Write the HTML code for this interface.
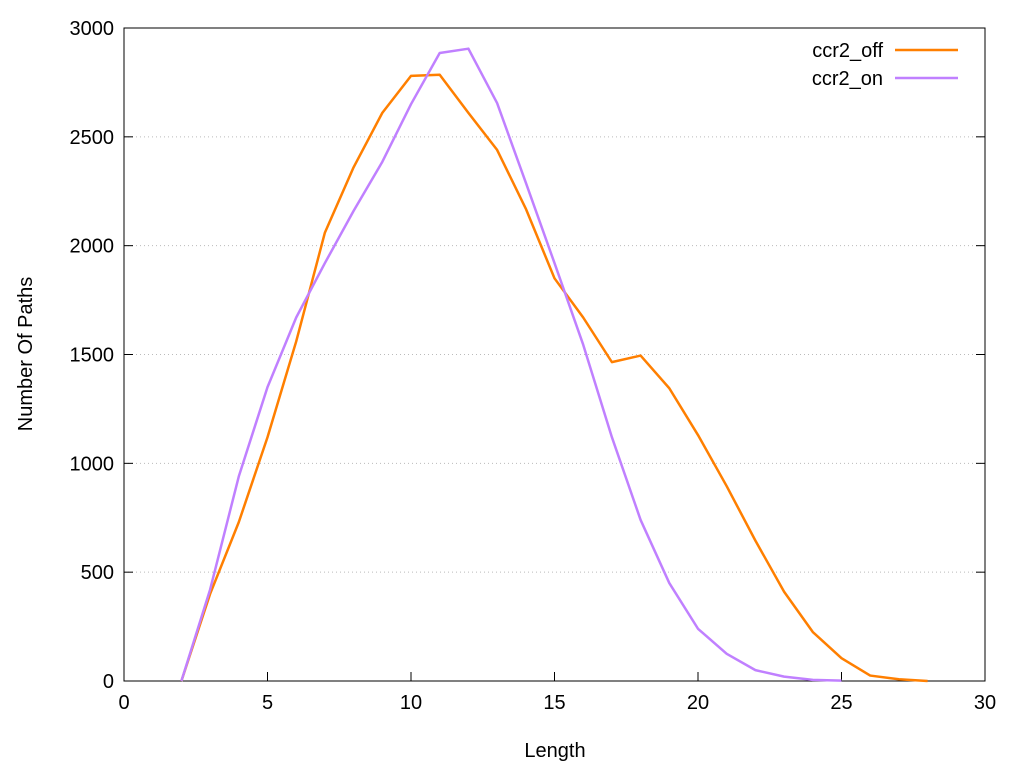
<!DOCTYPE html>
<html><head><meta charset="utf-8"><style>
html,body{margin:0;padding:0;background:#fff;width:1024px;height:768px;overflow:hidden}
svg text{font-family:"Liberation Sans",sans-serif;font-size:20px;fill:#000}
</style></head><body>
<svg id="c" width="1024" height="768"></svg>
<script>
const xs=[2,3,4,5,6,7,8,9,10,11,12,13,14,15,16,17,18,19,20,21,22,23,24,25,26,27,28];
const off=[0,400,730,1120,1560,2060,2360,2610,2780,2785,2610,2440,2170,1850,1670,1465,1495,1345,1130,895,645,410,225,105,25,8,0];
const on=[0,420,940,1350,1670,1920,2160,2385,2650,2885,2905,2655,2290,1920,1545,1120,740,450,240,125,50,20,5,2];
const xTicks=[0,5,10,15,20,25,30];
const yTicks=[0,500,1000,1500,2000,2500,3000];
const L=124,R=985,T=28,B=681;
const sx=v=>L+(R-L)*v/30, sy=v=>B-(B-T)*v/3000;
const svg=document.getElementById('c');const NS='http://www.w3.org/2000/svg';
function mk(t,a,txt){const e=document.createElementNS(NS,t);for(const k in a)e.setAttribute(k,a[k]);if(txt!==undefined)e.textContent=txt;svg.appendChild(e);return e;}
yTicks.forEach(v=>{
 if(v>0&&v<3000){const g=mk('line',{x1:L,x2:R,y1:sy(v),y2:sy(v),stroke:'#bbb','stroke-width':1,'stroke-dasharray':'1,3'});
 
 }
 mk('line',{x1:L,x2:L+9,y1:sy(v),y2:sy(v),stroke:'#000'});mk('line',{x1:R,x2:R-9,y1:sy(v),y2:sy(v),stroke:'#000'});
 const t=mk('text',{x:L-10,y:sy(v)+7,'text-anchor':'end'},v);
 
 
});
xTicks.forEach(v=>{
 mk('line',{x1:sx(v),x2:sx(v),y1:B,y2:B-9,stroke:'#000'});
 const t=mk('text',{x:sx(v),y:B+28,'text-anchor':'middle'},v);
 
 
});
const f=mk('rect',{x:L,y:T,width:R-L,height:B-T,fill:'none',stroke:'#000','stroke-width':1});


function series(ys,col,name){
 const p=mk('polyline',{points:ys.map((y,i)=>sx(xs[i])+','+sy(y)).join(' '),fill:'none',stroke:col,'stroke-width':2.5,'stroke-linejoin':'round'});
 
 
}
series(off,'#ff7f00','series-ccr2-off');
series(on,'#c080ff','series-ccr2-on');
const l1=mk('text',{x:883,y:57,'text-anchor':'end'},'ccr2_off');


mk('line',{x1:895,x2:958,y1:50,y2:50,stroke:'#ff7f00','stroke-width':2.5});
const l2=mk('text',{x:883,y:85,'text-anchor':'end'},'ccr2_on');


mk('line',{x1:895,x2:958,y1:78,y2:78,stroke:'#c080ff','stroke-width':2.5});
const xt=mk('text',{x:555,y:757,'text-anchor':'middle'},'Length');


const yt=mk('text',{x:0,y:0,'text-anchor':'middle',transform:'translate(32,354) rotate(-90)'},'Number Of Paths');


</script>
</body></html>
